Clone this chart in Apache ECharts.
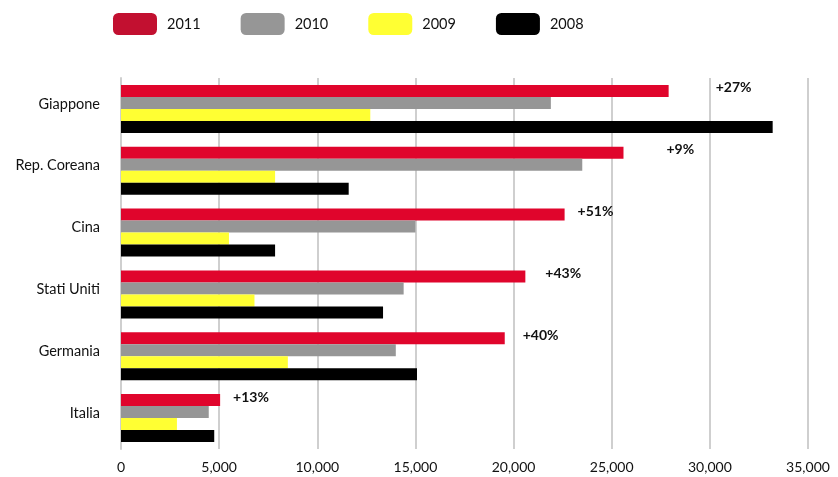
<!DOCTYPE html>
<html>
<head>
<meta charset="utf-8">
<script src="https://cdn.jsdelivr.net/npm/echarts@6/dist/echarts.min.js"></script>
<style>
  html, body { margin: 0; padding: 0; background: #fff; }
  #chart { width: 838px; height: 477px; }
</style>
</head>
<body>
<div id="chart"></div>
<script>
// Countries, top to bottom
const countries = ['Giappone', 'Rep. Coreana', 'Cina', 'Stati Uniti', 'Germania', 'Italia'];
const years = ['2011', '2010', '2009', '2008'];

// Values per year, same order as countries
const values2011 = [27900, 25600, 22600, 20600, 19550, 5050];
const values2010 = [21900, 23500, 15000, 14400, 14000, 4470];
const values2009 = [12700, 7850, 5500, 6800, 8500, 2850];
const values2008 = [33200, 11600, 7850, 13350, 15080, 4750];

// Value axis ticks
const axisMax = 35000;
const axisStep = 5000;

// Growth 2011 vs 2010, shown after the red bars
function growthLabel(i) {
  const g = Math.round((values2011[i] / values2010[i] - 1) * 100);
  return (g >= 0 ? '+' : '') + g + '%';
}

// Horizontal nudge of each growth label past its bar end
const growthLabelShift = [47, 43, 13, 20, 18, 13];

const barColors = ['#E0052C', '#969696', '#FFFF33', '#000000'];
const legendColors = ['#C21030', '#969696', '#FFFF33', '#000000'];
const FONT = 'Lato, "Open Sans", sans-serif';

const chart = echarts.init(document.getElementById('chart'), null, { renderer: 'canvas' });

const seriesValues = [values2011, values2010, values2009, values2008];

const series = years.map((y, k) => ({
  name: y,
  type: 'bar',
  barWidth: 12,
  barGap: '0%',
  itemStyle: { color: barColors[k] },
  data: seriesValues[k].map((v, i) => {
    const d = { value: v };
    if (k === 0) {
      d.label = {
        show: true,
        position: 'right',
        distance: growthLabelShift[i],
        offset: [0, -3],
        formatter: () => growthLabel(i),
        color: '#111',
        fontFamily: FONT,
        fontWeight: 'bold',
        fontSize: 14
      };
    }
    return d;
  }),
  silent: true,
  animation: false
}));

chart.setOption({
  animation: false,
  backgroundColor: '#ffffff',
  legend: {
    top: 13,
    left: 113,
    padding: 0,
    itemWidth: 44,
    itemHeight: 22,
    itemGap: 40,
    icon: 'roundRect',
    textStyle: {
      fontFamily: FONT,
      fontSize: 14.5,
      color: '#111',
      padding: [0, 0, 0, 5]
    },
    data: years.map((y, k) => ({ name: y, itemStyle: { color: legendColors[k] } }))
  },
  grid: {
    left: 121,
    right: 30,
    top: 78,
    bottom: 28,
    containLabel: false
  },
  xAxis: {
    type: 'value',
    min: 0,
    max: axisMax,
    interval: axisStep,
    axisLine: { show: false },
    axisTick: { show: false },
    splitLine: { show: true, lineStyle: { color: '#cfcfcf', width: 2 } },
    axisLabel: {
      margin: 11,
      fontFamily: FONT,
      fontSize: 14,
      color: '#111',
      formatter: v => v.toLocaleString('en-US')
    }
  },
  yAxis: {
    type: 'category',
    inverse: true,
    data: countries,
    axisLine: { show: true, lineStyle: { color: '#cfcfcf', width: 2 } },
    axisTick: { show: false },
    splitLine: { show: false },
    axisLabel: {
      margin: 21,
      fontFamily: FONT,
      fontSize: 14.5,
      color: '#111',
      verticalAlign: 'bottom',
      lineHeight: 10
    }
  },
  series: series
});
</script>
</body>
</html>
